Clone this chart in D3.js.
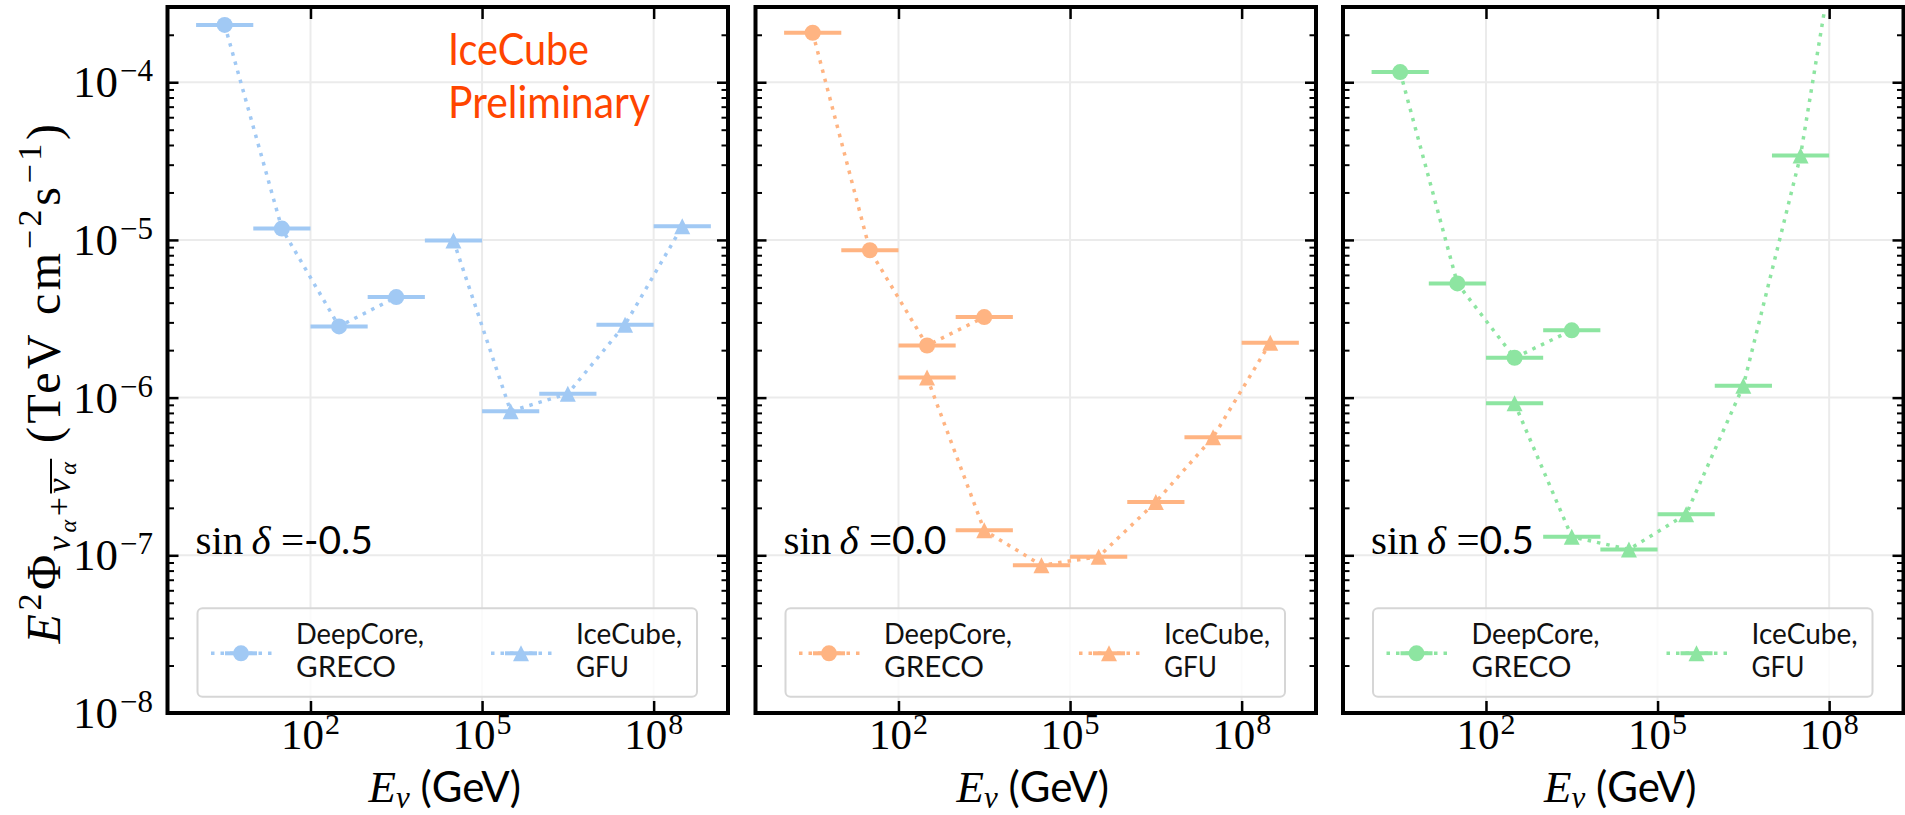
<!DOCTYPE html>
<html>
<head>
<meta charset="utf-8">
<script src="https://cdn.jsdelivr.net/npm/d3@7"></script>
<style>
  body { margin: 0; background: #fff; }
  svg { display: block; }
</style>
</head>
<body>
<svg id="chart" width="1905" height="815"></svg>
<script>
// PANELS: declination and colour
const panelSinDec = ["-0.5", "0.0", "0.5"];
const panelColors = ["#a1c9f4", "#ffb482", "#8de5a1"];

// DEEPCORE GRECO (energy bins in GeV, flux in TeV cm^-2 s^-1)
const grecoE  = [3.16, 31.6, 316, 3160];
const grecoLo = [1, 10, 100, 1000];
const grecoHi = [10, 100, 1000, 10000];
const grecoFlux = [
  [2.31e-4, 1.18e-5, 2.83e-6, 4.34e-6],
  [2.06e-4, 8.6e-6, 2.14e-6, 3.24e-6],
  [1.16e-4, 5.3e-6, 1.79e-6, 2.67e-6]
];

// ICECUBE GFU
const gfuE  = [316, 3160, 31600, 3.16e5, 3.16e6, 3.16e7, 3.16e8];
const gfuLo = [1e2, 1e3, 1e4, 1e5, 1e6, 1e7, 1e8];
const gfuHi = [1e3, 1e4, 1e5, 1e6, 1e7, 1e8, 1e9];
const gfuFlux = [
  [null, null, 9.9e-6, 8.2e-7, 1.06e-6, 2.9e-6, 1.22e-5],
  [1.34e-6, 1.44e-7, 8.65e-8, 9.8e-8, 2.18e-7, 5.6e-7, 2.23e-6],
  [9.2e-7, 1.31e-7, 1.09e-7, 1.82e-7, 1.19e-6, 3.43e-5, 5.4e-3]
];

// TICKS
const xTicks = [1e2, 1e5, 1e8];
const xTickExp = ["2", "5", "8"];
const yTicks = [1e-8, 1e-7, 1e-6, 1e-5, 1e-4];
const yTickExp = ["\u22128", "\u22127", "\u22126", "\u22125", "\u22124"];

const legendLabels = [["DeepCore,", "GRECO"], ["IceCube,", "GFU"]];

// LAYOUT
const panelLeft = [167.5, 755.5, 1343];
const panelW = 560.5, plotTop = 7, plotBottom = 713;
const ph = plotBottom - plotTop;

const serif = "'Liberation Serif', 'DejaVu Serif', serif";
const sans = "Lato, 'Open Sans', sans-serif";

const svg = d3.select("#chart");
const defs = svg.append("defs");

const x = d3.scaleLog().domain([Math.pow(10, -0.5), Math.pow(10, 9.3)]).range([0, panelW]);
const y = d3.scaleLog().domain([1e-8, 3e-4]).range([ph, 0]);
const yMinor = y.ticks().filter(v => !yTicks.some(m => Math.abs(v / m - 1) < 1e-6));

const trianglePath = "M0,-8L8,8L-8,8Z";

// appends tspans with size / offset / style
function richText(sel, parts) {
  parts.forEach(p => {
    sel.append("tspan")
      .text(p.t)
      .attr("font-size", p.size || null)
      .attr("dx", p.dx || null)
      .attr("dy", p.dy || 0)
      .attr("font-style", p.it ? "italic" : null)
      .attr("font-family", p.ff || null);
  });
  return sel;
}

function drawSeries(g, xs, lo, hi, ys, col, marker) {
  const pts = xs.map((e, k) => ({ e: e, lo: lo[k], hi: hi[k], f: ys[k] })).filter(d => d.f != null);

  g.append("g").selectAll("line").data(pts).join("line")
    .attr("x1", d => x(d.lo)).attr("x2", d => x(d.hi))
    .attr("y1", d => y(d.f)).attr("y2", d => y(d.f))
    .attr("stroke", col).attr("stroke-width", 4);

  g.append("path").datum(pts)
    .attr("d", d3.line().x(d => x(d.e)).y(d => y(d.f)))
    .attr("fill", "none").attr("stroke", col)
    .attr("stroke-width", 3.5).attr("stroke-dasharray", "3.5,6");

  const m = g.append("g").selectAll("path").data(pts).join("path")
    .attr("transform", d => `translate(${x(d.e)},${y(d.f)})`)
    .attr("fill", col);
  if (marker === "circle") m.attr("d", d3.symbol(d3.symbolCircle, Math.PI * 64)());
  else m.attr("d", trianglePath);
}

panelSinDec.forEach((sd, i) => {
  const col = panelColors[i];
  const g = svg.append("g").attr("transform", `translate(${panelLeft[i]},${plotTop})`);

  defs.append("clipPath").attr("id", "clip" + i)
    .append("rect").attr("width", panelW).attr("height", ph);

  // GRID
  g.append("g").selectAll("line").data(xTicks).join("line")
    .attr("x1", d => x(d)).attr("x2", d => x(d)).attr("y1", 0).attr("y2", ph)
    .attr("stroke", "#ebebeb").attr("stroke-width", 2);
  g.append("g").selectAll("line").data(yTicks).join("line")
    .attr("y1", d => y(d)).attr("y2", d => y(d)).attr("x1", 0).attr("x2", panelW)
    .attr("stroke", "#ebebeb").attr("stroke-width", 2);

  // DATA
  const dg = g.append("g").attr("clip-path", `url(#clip${i})`);
  drawSeries(dg, grecoE, grecoLo, grecoHi, grecoFlux[i], col, "circle");
  drawSeries(dg, gfuE, gfuLo, gfuHi, gfuFlux[i], col, "triangle");

  // SIN DELTA LABEL
  const st = g.append("text")
    .attr("x", 28).attr("y", 554 - plotTop)
    .attr("font-family", serif).attr("font-size", 41).attr("fill", "#000");
  richText(st, [
    { t: "sin\u2009" },
    { t: "\u03b4", it: true },
    { t: "\u00a0=" },
    { t: sd, ff: sans, size: 39 }
  ]);

  // LEGEND
  const boxW = panelW - 61;
  const lg = g.append("g").attr("transform", `translate(30,${608.3 - plotTop})`);
  lg.append("rect")
    .attr("width", boxW).attr("height", 88.4).attr("rx", 5)
    .attr("fill", "#fff").attr("fill-opacity", 0.8)
    .attr("stroke", "#d6d6d6").attr("stroke-width", 2);

  const handleX = [43.5, 323.5];
  const textX = [98.5, 378.5];
  const textLen = [[128, 100], [106, 53]];
  handleX.forEach((hx, k) => {
    const cy = 45;
    lg.append("line").attr("x1", hx - 30).attr("x2", hx + 32).attr("y1", cy).attr("y2", cy)
      .attr("stroke", col).attr("stroke-width", 3.5).attr("stroke-dasharray", "3.5,6");
    lg.append("line").attr("x1", hx - 16).attr("x2", hx + 16).attr("y1", cy).attr("y2", cy)
      .attr("stroke", col).attr("stroke-width", 4);
    const mk = lg.append("path").attr("transform", `translate(${hx},${cy})`).attr("fill", col);
    if (k === 0) mk.attr("d", d3.symbol(d3.symbolCircle, Math.PI * 64)());
    else mk.attr("d", trianglePath);

    const lt = lg.append("text")
      .attr("y", 36)
      .attr("font-family", sans).attr("font-size", 28.5).attr("fill", "#111");
    legendLabels[k].forEach((lab, j) => {
      lt.append("tspan")
        .attr("x", textX[k]).attr("dy", j === 0 ? 0 : 33)
        .attr("textLength", textLen[k][j]).attr("lengthAdjust", "spacingAndGlyphs")
        .text(lab);
    });
  });

  // TICKS (inward, all four sides)
  const styleAxis = (a, w) => {
    a.select(".domain").remove();
    a.selectAll("line").attr("stroke", "#000").attr("stroke-width", w);
  };
  g.append("g").call(d3.axisLeft(y).tickValues(yTicks).tickSizeInner(-11).tickSizeOuter(0).tickFormat(""))
    .call(a => styleAxis(a, 2.5));
  g.append("g").call(d3.axisLeft(y).tickValues(yMinor).tickSizeInner(-6.5).tickSizeOuter(0).tickFormat(""))
    .call(a => styleAxis(a, 2));
  g.append("g").attr("transform", `translate(${panelW},0)`)
    .call(d3.axisRight(y).tickValues(yTicks).tickSizeInner(-11).tickSizeOuter(0).tickFormat(""))
    .call(a => styleAxis(a, 2.5));
  g.append("g").attr("transform", `translate(${panelW},0)`)
    .call(d3.axisRight(y).tickValues(yMinor).tickSizeInner(-6.5).tickSizeOuter(0).tickFormat(""))
    .call(a => styleAxis(a, 2));
  g.append("g").attr("transform", `translate(0,${ph})`)
    .call(d3.axisBottom(x).tickValues(xTicks).tickSizeInner(-12).tickSizeOuter(0).tickFormat(""))
    .call(a => styleAxis(a, 2.5));
  g.append("g")
    .call(d3.axisTop(x).tickValues(xTicks).tickSizeInner(-12).tickSizeOuter(0).tickFormat(""))
    .call(a => styleAxis(a, 2.5));

  // FRAME
  g.append("rect").attr("width", panelW).attr("height", ph)
    .attr("fill", "none").attr("stroke", "#000").attr("stroke-width", 4);

  // X TICK LABELS
  xTicks.forEach((t, k) => {
    const tx = g.append("text")
      .attr("x", x(t)).attr("y", 749 - plotTop)
      .attr("text-anchor", "middle")
      .attr("font-family", serif).attr("font-size", 43).attr("fill", "#000");
    richText(tx, [{ t: "10" }, { t: xTickExp[k], size: 30, dx: 1, dy: -15 }]);
  });

  // X AXIS LABEL
  const xl = g.append("text")
    .attr("x", panelW / 2 - 3).attr("y", 802 - plotTop)
    .attr("text-anchor", "middle")
    .attr("font-family", serif).attr("font-size", 45).attr("fill", "#000");
  richText(xl, [
    { t: "E", it: true },
    { t: "\u03bd", it: true, size: 31, dy: 6 },
    { t: "\u00a0(GeV)", ff: sans, size: 42, dy: -6 }
  ]);

  // Y TICK LABELS on first panel only
  if (i === 0) {
    yTicks.forEach((t, k) => {
      const ty = g.append("text")
        .attr("x", -14.5).attr("y", y(t) + 15)
        .attr("text-anchor", "end")
        .attr("font-family", serif).attr("font-size", 45).attr("fill", "#000");
      richText(ty, [{ t: "10" }, { t: yTickExp[k], size: 31, dx: 2, dy: -16 }]);
    });
  }
});

// PRELIMINARY TAG
["IceCube", "Preliminary"].forEach((s, j) => {
  svg.append("text")
    .attr("x", 448).attr("y", 65 + j * 53)
    .attr("font-family", sans).attr("font-size", 44).attr("fill", "#ff4500")
    .attr("textLength", j === 0 ? 141 : 202).attr("lengthAdjust", "spacingAndGlyphs")
    .text(s);
});

// Y AXIS LABEL
const ylg = svg.append("g").attr("transform", "translate(60,382) rotate(-90)");
const yl = ylg.append("text")
  .attr("text-anchor", "middle")
  .attr("font-family", serif).attr("font-size", 48).attr("fill", "#000");
richText(yl, [
  { t: "E", it: true },
  { t: "2", size: 34, dy: -19 },
  { t: "\u03a6", size: 48, dy: 19 },
  { t: "\u03bd", it: true, size: 34, dy: 10 },
  { t: "\u03b1", it: true, size: 24, dy: 6 },
  { t: "+", size: 34, dy: -6 },
  { t: "\u03bd", it: true, size: 34 },
  { t: "\u03b1", it: true, size: 24, dy: 6 },
  { t: "\u00a0(TeV\u00a0cm", size: 48, dy: -16 },
  { t: "\u22122", size: 34, dy: -19 },
  { t: "s", size: 48, dy: 19 },
  { t: "\u22121", size: 34, dy: -19 },
  { t: ")", size: 48, dy: 19 }
]);
// stretch spacing so the label spans the same length as the reference
const node = yl.node();
const nChars = node.getNumberOfChars();
const natural = node.getComputedTextLength();
if (natural < 523) yl.attr("letter-spacing", (523 - natural) / nChars);
// overline over the antineutrino subscript
const e1 = node.getExtentOfChar(6);
const e2 = node.getExtentOfChar(7);
ylg.append("line")
  .attr("x1", e1.x).attr("x2", e2.x + e2.width)
  .attr("y1", -9).attr("y2", -9)
  .attr("stroke", "#000").attr("stroke-width", 2);
</script>
</body>
</html>
